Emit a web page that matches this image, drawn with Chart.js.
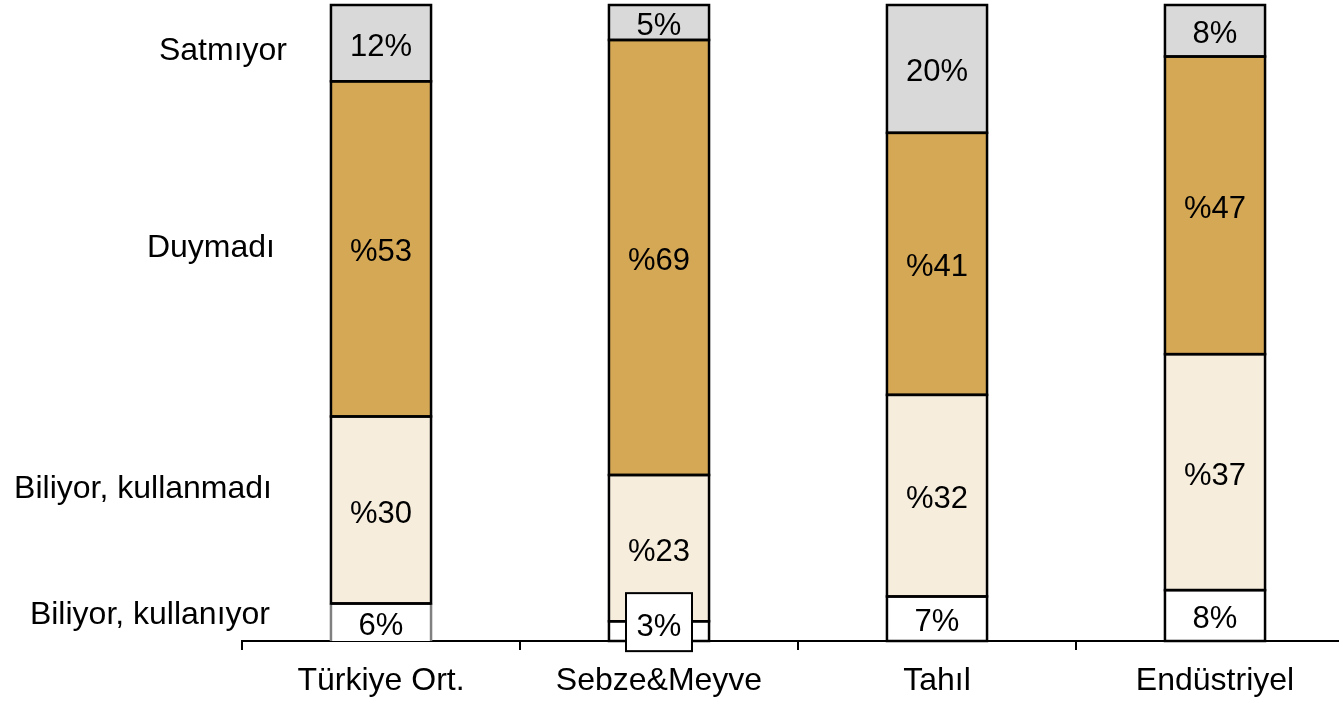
<!DOCTYPE html>
<html>
<head>
<meta charset="utf-8">
<script src="https://cdn.jsdelivr.net/npm/chart.js@4/dist/chart.umd.min.js"></script>
<style>
  html, body { margin: 0; padding: 0; background: #fff; overflow: hidden; }
  #wrap { width: 1354px; height: 701px; }
</style>
</head>
<body>
<div id="wrap"><canvas id="chart" width="1354" height="701"></canvas></div>
<script>
// categories and stacked shares (bar heights)
const categories = ["Türkiye Ort.", "Sebze&Meyve", "Tahıl", "Endüstriyel"];
const seriesNames = ["Biliyor, kullanıyor", "Biliyor, kullanmadı", "Duymadı", "Satmıyor"];

const usingShare = [5.9, 3.1, 7.0, 8.0];
const knowsShare = [29.4, 23.0, 31.7, 37.1];
const neverShare = [52.7, 68.4, 41.2, 46.8];
const notSellShare = [12.0, 5.5, 20.1, 8.1];

// printed values
const usingLabels = [6, 3, 7, 8];
const knowsLabels = [30, 23, 32, 37];
const neverLabels = [53, 69, 41, 47];
const notSellLabels = [12, 5, 20, 8];

const colors = ["#ffffff", "#f6eddd", "#d5a855", "#d9d9d9"];

const fontFamily = "'Liberation Sans', Arial, sans-serif";
const labelFont = "31px " + fontFamily;
const sideFont = "32px " + fontFamily;

// outlines + data labels for every segment
const segmentLabels = {
  id: "segmentLabels",
  afterDatasetsDraw(chart) {
    const ctx = chart.ctx;
    const printed = [usingLabels, knowsLabels, neverLabels, notSellLabels];
    ctx.save();
    ctx.lineWidth = 2.5;
    chart.data.datasets.forEach((ds, i) => {
      chart.getDatasetMeta(i).data.forEach((bar, j) => {
        const left = bar.x - bar.width / 2;
        const top = Math.min(bar.y, bar.base);
        const h = Math.abs(bar.base - bar.y);
        if (i === 0 && j === 0) {
          // grey sides on the first bottom segment
          ctx.strokeStyle = "#808080";
          ctx.beginPath();
          ctx.moveTo(left, bar.base); ctx.lineTo(left, top);
          ctx.moveTo(left + bar.width, bar.base); ctx.lineTo(left + bar.width, top);
          ctx.stroke();
          ctx.strokeStyle = "#000";
          ctx.beginPath();
          ctx.moveTo(left, top); ctx.lineTo(left + bar.width, top);
          ctx.stroke();
        } else {
          ctx.strokeStyle = "#000";
          ctx.strokeRect(left, top, bar.width, h);
        }
      });
    });

    ctx.font = labelFont;
    ctx.textAlign = "center";
    ctx.textBaseline = "middle";
    ctx.lineWidth = 2;
    chart.data.datasets.forEach((ds, i) => {
      chart.getDatasetMeta(i).data.forEach((bar, j) => {
        const v = printed[i][j];
        const text = (i === 1 || i === 2) ? "%" + v : v + "%";
        const cy = (bar.y + bar.base) / 2;
        if (i === 0 && j === 1) {
          // small segment: boxed label
          ctx.fillStyle = "#fff";
          ctx.fillRect(bar.x - 33, cy - 38, 66, 58);
          ctx.strokeStyle = "#000";
          ctx.strokeRect(bar.x - 33, cy - 38, 66, 58);
          ctx.fillStyle = "#000";
          ctx.fillText(text, bar.x, cy - 4);
          return;
        }
        ctx.fillStyle = "#000";
        ctx.fillText(text, bar.x, cy + 4);
      });
    });
    ctx.restore();
  }
};

// series names on the left side
const sideLabels = {
  id: "sideLabels",
  afterDraw(chart) {
    const ctx = chart.ctx;
    const y = chart.scales.y;
    const spots = [[270, 4.6], [272, 24.3], [275, 62.3], [287, 93.2]];
    ctx.save();
    ctx.font = sideFont;
    ctx.fillStyle = "#000";
    ctx.textAlign = "right";
    ctx.textBaseline = "middle";
    seriesNames.forEach((name, i) => {
      ctx.fillText(name, spots[i][0], y.getPixelForValue(spots[i][1]) + 3);
    });
    ctx.restore();
  }
};

function makeSet(name, values, color) {
  return {
    label: name,
    data: values,
    backgroundColor: color,
    borderWidth: 0,
    barPercentage: 0.72,
    categoryPercentage: 0.5
  };
}

new Chart(document.getElementById("chart"), {
  type: "bar",
  data: {
    labels: categories,
    datasets: [
      makeSet(seriesNames[0], usingShare, colors[0]),
      makeSet(seriesNames[1], knowsShare, colors[1]),
      makeSet(seriesNames[2], neverShare, colors[2]),
      makeSet(seriesNames[3], notSellShare, colors[3])
    ]
  },
  options: {
    responsive: false,
    animation: false,
    layout: { padding: { left: 242, right: 0, top: 5, bottom: 0 } },
    plugins: {
      legend: { display: false },
      tooltip: { enabled: false }
    },
    scales: {
      x: {
        stacked: true,
        afterFit(scale) { scale.height = 60; },
        grid: {
          offset: true,
          drawOnChartArea: false,
          color: "#000",
          lineWidth: 2,
          tickLength: 9
        },
        border: { display: true, color: "#000", width: 2 },
        ticks: {
          color: "#000",
          padding: 12,
          font: { family: fontFamily, size: 32 }
        }
      },
      y: {
        stacked: true,
        display: false,
        min: 0,
        max: 100
      }
    }
  },
  plugins: [segmentLabels, sideLabels]
});
</script>
</body>
</html>
